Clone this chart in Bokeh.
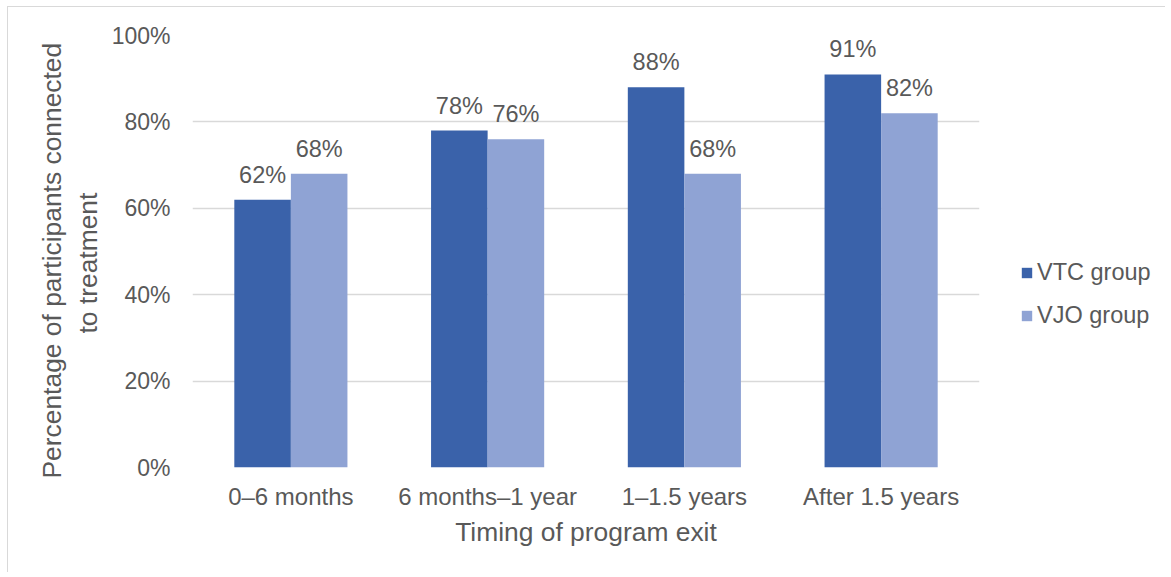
from bokeh.plotting import figure
from bokeh.layouts import row
from bokeh.models import (ColumnDataSource, FactorRange, Range1d, FixedTicker, Legend,
                          LegendItem, LabelSet, Title)
from bokeh.core.properties import value
from bokeh.transform import dodge
from bokeh.embed import file_html
from bokeh.resources import INLINE

categories = ["0\u20136 months", "6 months\u20131 year", "1\u20131.5 years", "After 1.5 years"]
vtc_values = [62, 78, 88, 91]
vjo_values = [68, 76, 68, 82]
series_names = ["VTC group", "VJO group"]
y_ticks = [0, 20, 40, 60, 80, 100]
y_tick_labels = ["0%", "20%", "40%", "60%", "80%", "100%"]
x_title = "Timing of program exit"
y_title_lines = ["Percentage of participants connected", "to treatment"]

TEXT = "#595959"
GRID = "#d9d9d9"
C_VTC = "#3a62aa"
C_VJO = "#8fa3d4"
FONT = "Liberation Sans"
H = 565

source = ColumnDataSource(dict(
    cat=categories,
    vtc=vtc_values,
    vjo=vjo_values,
    vtc_lbl=[f"{v}%" for v in vtc_values],
    vjo_lbl=[f"{v}%" for v in vjo_values],
))

p = figure(width=982, height=H, output_backend="svg", toolbar_location=None,
           x_range=FactorRange(*categories, range_padding=0),
           y_range=Range1d(0, 100),
           min_border_left=184, min_border_top=28, min_border_right=11, min_border_bottom=105)
p.outline_line_color = None
p.background_fill_color = "white"
p.border_fill_color = "white"

bw = 0.2875
r1 = p.vbar(x=dodge("cat", -bw / 2, range=p.x_range), top="vtc", width=bw, bottom=0,
            source=source, fill_color=C_VTC, line_color=None)
r2 = p.vbar(x=dodge("cat", bw / 2, range=p.x_range), top="vjo", width=bw, bottom=0,
            source=source, fill_color=C_VJO, line_color=None)

for col, lbl, off in (("vtc", "vtc_lbl", -bw / 2), ("vjo", "vjo_lbl", bw / 2)):
    ls = LabelSet(x=dodge("cat", off, range=p.x_range), y=col, text=lbl, source=source,
                  text_align="center", text_baseline="alphabetic", y_offset=17,
                  text_font=value(FONT), text_font_size=value("23.5px"), text_color=TEXT)
    p.add_layout(ls)

# axes
p.xgrid.grid_line_color = None
p.ygrid.grid_line_color = GRID
p.ygrid.grid_line_width = 1.5
p.yaxis.ticker = FixedTicker(ticks=y_ticks)
p.yaxis.major_label_overrides = {t: l for t, l in zip(y_ticks, y_tick_labels)}
p.ygrid.ticker = FixedTicker(ticks=y_ticks)
for ax in (p.xaxis[0], p.yaxis[0]):
    ax.axis_line_color = None
    ax.major_tick_line_color = None
    ax.minor_tick_line_color = None
    ax.major_tick_out = 0
    ax.major_tick_in = 0
    ax.major_label_text_font = FONT
    ax.major_label_text_color = TEXT
p.yaxis.major_label_text_font_size = "23px"
p.yaxis.major_label_standoff = 22
p.xaxis.major_label_text_font_size = "24px"
p.xaxis.major_label_standoff = 15

# titles
p.add_layout(Title(text=x_title, align="center", text_font=FONT,
                   text_font_size="26.4px", text_font_style="normal", text_color=TEXT,
                   standoff=4), "below")
p.add_layout(Title(text=y_title_lines[1], align="left", offset=134, text_font=FONT,
                   text_font_size="26.4px", text_font_style="normal", text_color=TEXT,
                   standoff=11), "left")
p.add_layout(Title(text=y_title_lines[0], align="left", offset=-11, text_font=FONT,
                   text_font_size="26.4px", text_font_style="normal", text_color=TEXT,
                   standoff=-3), "left")

# legend panel (its plot frame is aligned with the main plot's frame)
p2 = figure(width=175, height=H, output_backend="svg", toolbar_location=None,
            x_range=Range1d(0, 1), y_range=Range1d(0, 1),
            x_axis_location=None, y_axis_location=None, min_border=0)
p2.outline_line_color = None
p2.grid.visible = False
p2.background_fill_color = "white"
p2.border_fill_color = "white"
# legend proxies: zero-height bars outside the visible range
lr1 = p2.vbar(x=[-5], top=[0], width=0.1, fill_color=C_VTC, line_color=None)
lr2 = p2.vbar(x=[-5], top=[0], width=0.1, fill_color=C_VJO, line_color=None)
legend = Legend(items=[LegendItem(label=series_names[0], renderers=[lr1]),
                       LegendItem(label=series_names[1], renderers=[lr2])],
                location=(30, 138), orientation="vertical",
                glyph_width=13, glyph_height=13, label_standoff=4, label_height=26,
                spacing=16, padding=0, margin=0, border_line_color=None,
                background_fill_alpha=0, label_text_font=FONT,
                label_text_font_size="23.5px", label_text_color=TEXT)
p2.add_layout(legend)

layout = row(p, p2, spacing=0)
layout.styles = {"border-top": "1px solid #d9d9d9", "border-left": "1px solid #d9d9d9",
                 "margin-left": "7px", "margin-top": "6px"}

open("out.html", "w").write(file_html(layout, INLINE))
